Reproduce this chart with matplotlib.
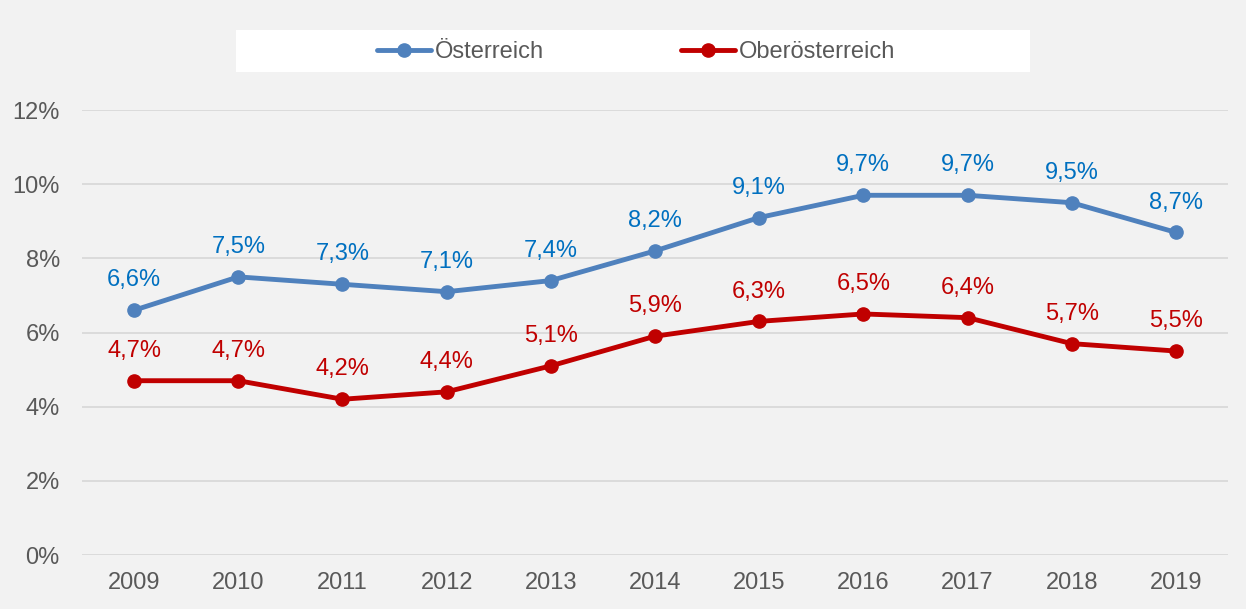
import matplotlib.pyplot as plt
from matplotlib.patches import Rectangle

plt.rcParams['font.family'] = ['Liberation Sans', 'DejaVu Sans']

# Arbeitslosenquote
jahre = ["2009", "2010", "2011", "2012", "2013", "2014", "2015", "2016", "2017", "2018", "2019"]
oesterreich = [6.6, 7.5, 7.3, 7.1, 7.4, 8.2, 9.1, 9.7, 9.7, 9.5, 8.7]
oberoesterreich = [4.7, 4.7, 4.2, 4.4, 5.1, 5.9, 6.3, 6.5, 6.4, 5.7, 5.5]

W, H = 1246, 609
fs = 17
fig = plt.figure(figsize=(W / 100, H / 100), dpi=100)
fig.patch.set_facecolor("#F2F2F2")
ax = fig.add_axes([82 / W, 1 - 555 / H, (1228 - 82) / W, (555 - 110) / H])
ax.set_facecolor("#F2F2F2")

x = list(range(len(jahre)))
ax.plot(x, oesterreich, color="#4F81BD", lw=3.5, marker="o", ms=9.5, label="Österreich",
        solid_capstyle="round")
ax.plot(x, oberoesterreich, color="#C00000", lw=3.5, marker="o", ms=9.5, label="Oberösterreich",
        solid_capstyle="round")

for i in x:
    ax.annotate(f"{oesterreich[i]:.1f}%".replace(".", ","), (i, oesterreich[i]),
                xytext=(0, 21.5), textcoords="offset points", ha="center", va="center",
                color="#0070C0", fontsize=fs)
    ax.annotate(f"{oberoesterreich[i]:.1f}%".replace(".", ","), (i, oberoesterreich[i]),
                xytext=(0, 21.5), textcoords="offset points", ha="center", va="center",
                color="#C00000", fontsize=fs)

ax.set_xlim(-0.5, len(jahre) - 0.5)
ax.set_ylim(0, 12)
ax.set_yticks(range(0, 13, 2))
ax.set_yticklabels([f"{v}%" for v in range(0, 13, 2)])
ax.set_xticks(x)
ax.set_xticklabels(jahre)
ax.tick_params(length=0, labelsize=fs, labelcolor="#595959")
ax.tick_params(axis="x", pad=12)
ax.tick_params(axis="y", pad=16)
ax.grid(axis="y", color="#D9D9D9", lw=1.3)
ax.set_axisbelow(True)
for s in ax.spines.values():
    s.set_visible(False)

# Legende
fig.patches.append(Rectangle((236 / W, 1 - 72 / H), (1030 - 236) / W, 42 / H,
                             transform=fig.transFigure, facecolor="white", edgecolor="none"))
fig.legend(loc="center", bbox_to_anchor=(636 / W, 1 - 52 / H), ncol=2, frameon=False,
           fontsize=fs, labelcolor="#595959", handlelength=2.3, handletextpad=0.15,
           columnspacing=5.8)

fig.savefig("out.png", dpi=100, facecolor=fig.get_facecolor())
